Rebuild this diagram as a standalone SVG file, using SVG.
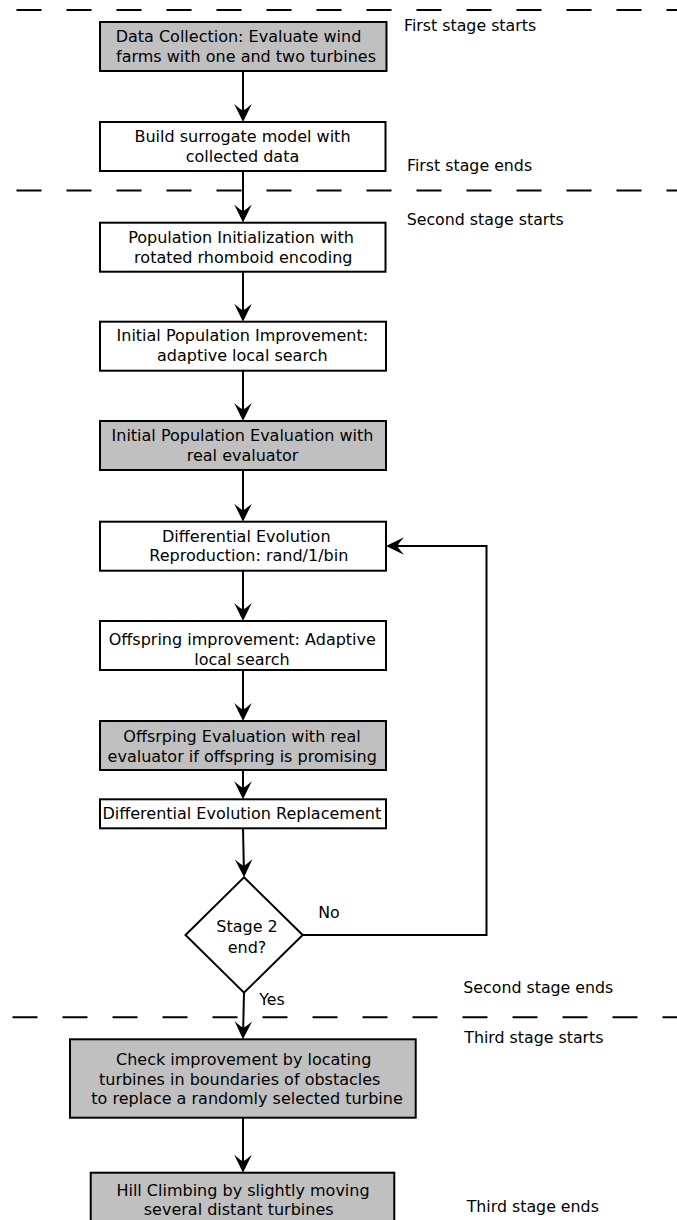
<svg xmlns="http://www.w3.org/2000/svg" width="677" height="1220" viewBox="0 0 677 1220">
<style>
.box{stroke:#000;stroke-width:2;fill:#fff}
.gray{fill:#c0c0c0}
.t{font-family:"DejaVu Sans",Verdana,sans-serif;font-size:16px;fill:#000;text-anchor:middle}
.lab{font-family:"DejaVu Sans",Verdana,sans-serif;font-size:15.8px;fill:#000}
.dash{stroke:#000;stroke-width:2;stroke-dasharray:25 25;fill:none}
.con{stroke:#000;stroke-width:2;fill:none;marker-end:url(#ah)}
</style>
<defs>
<marker id="ah" markerUnits="userSpaceOnUse" viewBox="-17 -10 21 20" markerWidth="21" markerHeight="20" refX="0" refY="0" orient="auto" overflow="visible">
<path d="M3,0 L-15,-8.8 Q-9.5,-2.5 -8.5,0 Q-9.5,2.5 -15,8.8 Z" fill="#000"/>
</marker>
</defs>
<rect width="677" height="1220" fill="#fff"/>
<g id="stage-lines">
<line class="dash" x1="16.5" y1="10" x2="700" y2="10"/>
<line class="dash" x1="16.5" y1="190.5" x2="700" y2="190.5"/>
<line class="dash" x1="12.5" y1="1017.3" x2="700" y2="1017.3"/>
</g>
<g id="stage-labels">
<text class="lab" x="404" y="30.5">First stage starts</text>
<text class="lab" x="407" y="171">First stage ends</text>
<text class="lab" x="406.7" y="224.5">Second stage starts</text>
<text class="lab" x="463.3" y="993">Second stage ends</text>
<text class="lab" x="464.3" y="1043.3">Third stage starts</text>
<text class="lab" x="466.7" y="1211.5">Third stage ends</text>
</g>
<g id="connectors">
<path class="con" d="M243,71 V119"/>
<path class="con" d="M243,171 V219.5"/>
<path class="con" d="M243,271.7 V318.7"/>
<path class="con" d="M243,370.7 V418"/>
<path class="con" d="M243,470 V518.7"/>
<path class="con" d="M243,570.7 V618"/>
<path class="con" d="M243,670 V718"/>
<path class="con" d="M243,770 V796.3"/>
<path class="con" d="M243,828.3 L244,874.3"/>
<path class="con" d="M302.7,935 H486.5 V546 H389"/>
<path class="con" d="M244,992.7 L243,1036.3"/>
<path class="con" d="M243,1117.7 V1169.7"/>
<text class="lab" x="318.3" y="918.3">No</text>
<text class="lab" x="259.3" y="1005">Yes</text>
</g>
<g id="n1">
<rect class="box gray" x="100" y="22" width="286.5" height="49"/>
<text class="t" x="238.5" y="42.3">Data Collection: Evaluate wind</text>
<text class="t" x="246" y="62.3">farms with one and two turbines</text>
</g>
<g id="n2">
<rect class="box" x="100" y="122" width="285.5" height="49"/>
<text class="t" x="242.5" y="142.3">Build surrogate model with</text>
<text class="t" x="242.5" y="162.3">collected data</text>
</g>
<g id="n3">
<rect class="box" x="100" y="222.7" width="285.5" height="49"/>
<text class="t" x="241" y="242.8">Population Initialization with</text>
<text class="t" x="243.3" y="262.8">rotated rhomboid encoding</text>
</g>
<g id="n4">
<rect class="box" x="100" y="321.7" width="286" height="49"/>
<text class="t" x="242.3" y="340.5">Initial Population Improvement:</text>
<text class="t" x="242.3" y="360.5">adaptive local search</text>
</g>
<g id="n5">
<rect class="box gray" x="100" y="421" width="286" height="49"/>
<text class="t" x="242.5" y="441">Initial Population Evaluation with</text>
<text class="t" x="242.5" y="461">real evaluator</text>
</g>
<g id="n6">
<rect class="box" x="100" y="521.7" width="286" height="49"/>
<text class="t" x="246.3" y="541.5">Differential Evolution</text>
<text class="t" x="248.8" y="561">Reproduction: rand/1/bin</text>
</g>
<g id="n7">
<rect class="box" x="100" y="621" width="286" height="49"/>
<text class="t" x="242.3" y="644.8">Offspring improvement: Adaptive</text>
<text class="t" x="242" y="664.8">local search</text>
</g>
<g id="n8">
<rect class="box gray" x="100" y="721" width="286" height="49"/>
<text class="t" x="242" y="742.2">Offsrping Evaluation with real</text>
<text class="t" x="242.2" y="762.2">evaluator if offspring is promising</text>
</g>
<g id="n9">
<rect class="box" x="100" y="799.3" width="286" height="29"/>
<text class="t" x="241.8" y="819">Differential Evolution Replacement</text>
</g>
<g id="n10">
<polygon class="box" points="244,877.3 302.7,935 244,992.7 185.5,935"/>
<text class="t" x="247" y="932.3">Stage 2</text>
<text class="t" x="247" y="953">end?</text>
</g>
<g id="n11">
<rect class="box gray" x="70" y="1039.3" width="345.7" height="78.4"/>
<text class="t" x="243.7" y="1064.8">Check improvement by locating</text>
<text class="t" x="239.7" y="1084.5">turbines in boundaries of obstacles</text>
<text class="t" x="247" y="1103.8">to replace a randomly selected turbine</text>
</g>
<g id="n12">
<rect class="box gray" x="90.7" y="1172.7" width="303.6" height="70"/>
<text class="t" x="243" y="1195.5">Hill Climbing by slightly moving</text>
<text class="t" x="238.7" y="1214.8">several distant turbines</text>
</g>
</svg>
